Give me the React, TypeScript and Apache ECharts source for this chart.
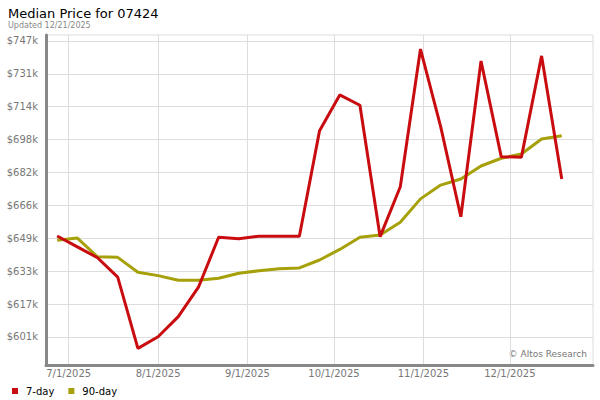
import { useEffect, useRef } from 'react';
import * as echarts from 'echarts';

const weekDates = [
  '2025-06-27', '2025-07-04', '2025-07-11', '2025-07-18', '2025-07-25',
  '2025-08-01', '2025-08-08', '2025-08-15', '2025-08-22', '2025-08-29',
  '2025-09-05', '2025-09-12', '2025-09-19', '2025-09-26',
  '2025-10-03', '2025-10-10', '2025-10-17', '2025-10-24', '2025-10-31',
  '2025-11-07', '2025-11-14', '2025-11-21', '2025-11-28',
  '2025-12-05', '2025-12-12', '2025-12-19',
];

// values in $k
const sevenDay = [
  650.7, 645.4, 640.0, 630.5, 595.4, 601.1, 611.0, 625.5, 650.1, 649.4,
  650.6, 650.6, 650.6, 702.6, 720.2, 715.1, 650.4, 675.0, 742.8, 704.6,
  660.2, 736.9, 689.8, 689.5, 739.4, 678.8,
];
const ninetyDay = [
  648.6, 649.7, 640.5, 640.2, 632.9, 631.2, 628.9, 628.9, 629.9, 632.4,
  633.6, 634.6, 635.0, 638.9, 644.1, 650.1, 651.2, 657.5, 669.0, 675.8,
  678.8, 685.2, 689.0, 691.1, 698.5, 700.1,
];

const yTickValues = [601, 617.2, 633.4, 649.6, 665.8, 682, 698.2, 714.4, 730.6, 746.8];
const yTickLabels = ['$601k', '$617k', '$633k', '$649k', '$666k', '$682k', '$698k', '$714k', '$731k', '$747k'];
const monthTicks = ['2025-07-01', '2025-08-01', '2025-09-01', '2025-10-01', '2025-11-01', '2025-12-01'];
const monthLabels = ['7/1/2025', '8/1/2025', '9/1/2025', '10/1/2025', '11/1/2025', '12/1/2025'];

const seriesNames = ['7-day', '90-day'];
const seriesColors = ['#c80c0f', '#a6a00a'];

const DAY = 86400000;
const toTime = (s: string) => {
  const [y, m, d] = s.split('-').map(Number);
  return Date.UTC(y, m - 1, d);
};

const FONT = 'DejaVu Sans';

export default function App() {
  const ref = useRef<HTMLDivElement>(null);

  useEffect(() => {
    if (!ref.current) return;
    const chart = echarts.init(ref.current, null, { renderer: 'svg' });
    const monthTimes = monthTicks.map(toTime);
    const xMin = toTime('2025-06-23') + 3 * 3600000;
    const xMax = toTime('2025-12-29') + 20 * 3600000;

    chart.setOption({
      animation: false,
      backgroundColor: '#ffffff',
      textStyle: { fontFamily: FONT },
      grid: {
        left: 46,
        right: 7,
        top: 35,
        bottom: 35,
        show: true,
        borderColor: '#dddddd',
        borderWidth: 1,
        backgroundColor: 'transparent',
      },
      legend: {
        data: seriesNames,
        left: 7,
        top: 381,
        icon: 'rect',
        itemWidth: 6,
        itemHeight: 6,
        itemGap: 14,
        textStyle: { fontFamily: FONT, fontSize: 10, color: '#000', padding: [0, 0, 0, 3] },
      },
      xAxis: {
        type: 'value',
        min: xMin,
        max: xMax,
        axisLine: { show: true, onZero: false, lineStyle: { color: '#888888', width: 3 } },
        axisTick: { show: false, customValues: monthTimes },
        splitLine: { show: true, lineStyle: { color: '#dddddd', width: 1 } },
        axisLabel: {
          customValues: monthTimes,
          margin: 3,
          color: '#777777',
          fontFamily: FONT,
          fontSize: 10,
          formatter: (v: number) => {
            const i = monthTimes.findIndex((t) => Math.abs(t - v) < DAY / 2);
            return i >= 0 ? monthLabels[i] : '';
          },
        },
      },
      yAxis: {
        type: 'value',
        min: 587.2,
        max: 749.7,
        axisLine: { show: true, onZero: false, lineStyle: { color: '#888888', width: 3 } },
        axisTick: { show: false, customValues: yTickValues },
        splitLine: { show: true, lineStyle: { color: '#dddddd', width: 1 } },
        axisLabel: {
          customValues: yTickValues,
          margin: 8,
          color: '#777777',
          fontFamily: FONT,
          fontSize: 10,
          formatter: (v: number) => {
            const i = yTickValues.findIndex((t) => Math.abs(t - v) < 0.01);
            return i >= 0 ? yTickLabels[i] : '';
          },
        },
      },
      series: [
        {
          name: seriesNames[1],
          type: 'line',
          data: weekDates.map((d, i) => [toTime(d), ninetyDay[i]]),
          showSymbol: false,
          symbol: 'none',
          lineStyle: { color: seriesColors[1], width: 3 },
          itemStyle: { color: seriesColors[1] },
          z: 2,
        },
        {
          name: seriesNames[0],
          type: 'line',
          data: weekDates.map((d, i) => [toTime(d), sevenDay[i]]),
          showSymbol: false,
          symbol: 'none',
          lineStyle: { color: seriesColors[0], width: 3 },
          itemStyle: { color: seriesColors[0] },
          z: 3,
        },
      ],
      graphic: [
        {
          type: 'text',
          x: 8,
          y: 13.5,
          style: { text: 'Median Price for 07424', font: `13px "${FONT}"`, fill: '#000', verticalAlign: 'middle' },
        },
        {
          type: 'text',
          x: 8,
          y: 25,
          style: { text: 'Updated 12/21/2025', font: `8px "${FONT}"`, fill: '#888', verticalAlign: 'middle' },
        },
        {
          type: 'text',
          x: 587,
          y: 354,
          style: { text: '© Altos Research', font: `9px "${FONT}"`, fill: '#777', align: 'right', verticalAlign: 'middle' },
        },
      ],
    });

    return () => chart.dispose();
  }, []);

  return (
    <div
      ref={ref}
      style={{ position: 'fixed', left: 0, top: 0, width: 600, height: 400 }}
    />
  );
}
